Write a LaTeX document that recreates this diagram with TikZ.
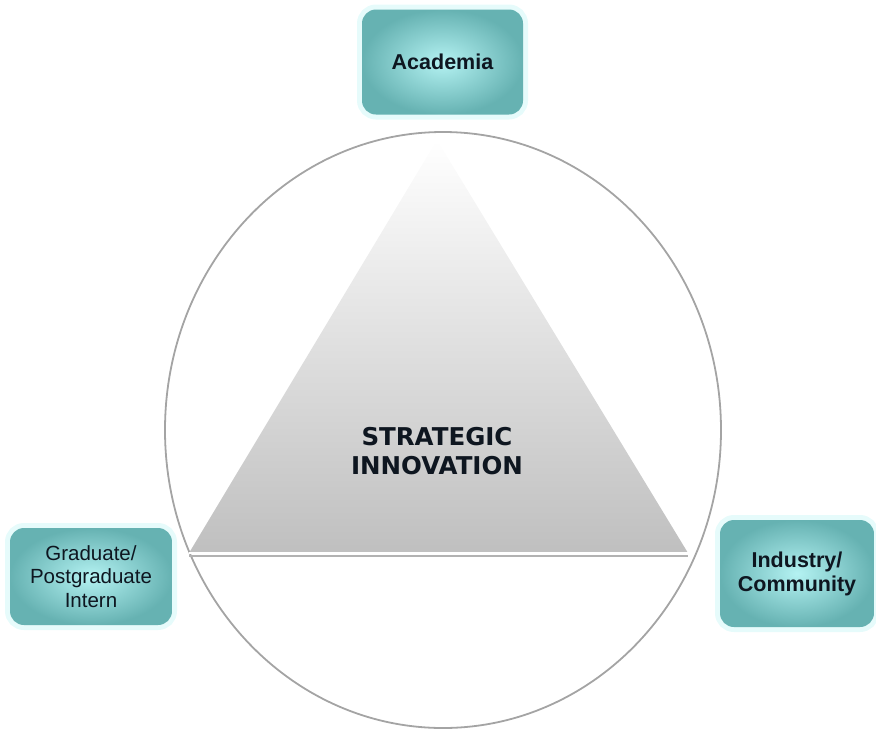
\documentclass[tikz,border=0pt]{standalone}
\usepackage{fontspec}
\setmainfont{Liberation Sans}
\newfontfamily\innofont{DejaVu Sans}
\usetikzlibrary{positioning}
\definecolor{tealdark}{HTML}{66B2B2}
\definecolor{teallight}{HTML}{B4F2F2}
\definecolor{halo}{HTML}{E6FBFB}
\definecolor{inktext}{HTML}{0E1620}
\definecolor{rimgray}{HTML}{A4A4A4}

\begin{document}
\begin{tikzpicture}[x=1pt,y=-1pt,
  partner/.style={rounded corners=14pt,inner color=teallight,outer color=tealdark,
    preaction={draw=halo,line width=10pt},
    text=inktext,align=center,inner sep=0pt},
  bigtext/.style={font=\bfseries\fontsize{21.5}{24}\selectfont},
  smalltext/.style={font=\fontsize{20.5}{23.5}\selectfont}]
\useasboundingbox (0,0) rectangle (876,729);
%------------------------------
% outer ring
%______________________________
\draw[rimgray,line width=1.8pt] (443,430) ellipse [x radius=278,y radius=298];
%
% triangle
\coordinate (apex) at (437,140);
\coordinate (baseL) at (189,553);
\coordinate (baseR) at (688,553);
\shade[top color=white,bottom color=black!25] (apex) -- (baseL) -- (baseR) -- cycle;
\draw[black!30,line width=1.4pt] ([yshift=-3pt]baseL) -- ([yshift=-3pt]baseR);
\draw[white,line width=1.6pt] (baseL) -- (baseR);
\node[text=inktext,align=center,font=\innofont\bfseries\fontsize{24.5}{29}\selectfont]
  (core) at (437,451) {STRATEGIC\\INNOVATION};
%
% partners
\node[partner,bigtext,minimum width=161pt,minimum height=105pt] (academia) at (442.5,62) {Academia};
\node[partner,smalltext,minimum width=162pt,minimum height=97pt] (intern) at (91,576.5) {Graduate/\\Postgraduate\\Intern};
\node[partner,bigtext,minimum width=154pt,minimum height=107pt] (industry) at (797,573.5) {Industry/\\Community};
\end{tikzpicture}
\end{document}
